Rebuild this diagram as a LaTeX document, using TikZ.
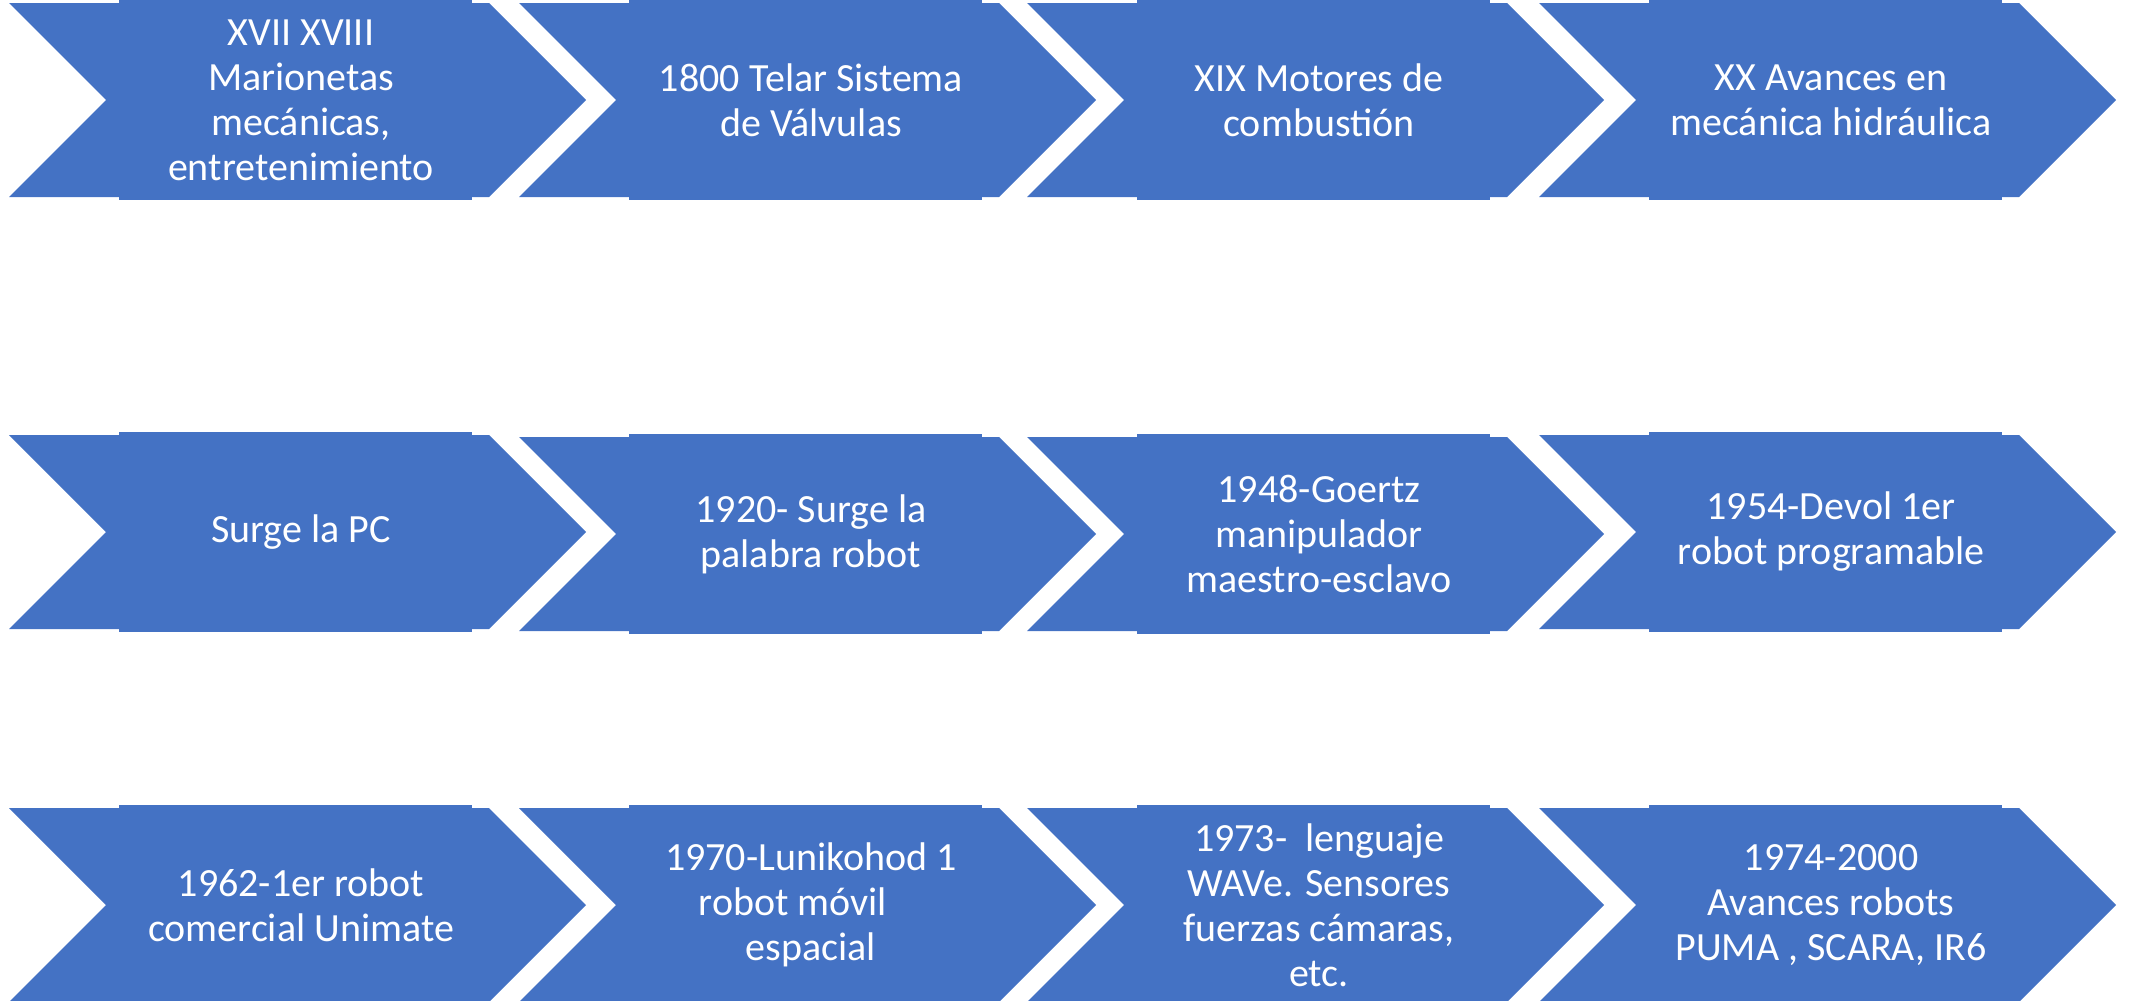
\documentclass[tikz,border=0pt]{standalone}
\usepackage{fontspec}
\setmainfont{Carlito}
\definecolor{chevblue}{HTML}{4472C4}
\tikzset{
  chevfill/.style={fill=chevblue},
  chevtext/.style={text=white, align=center, inner sep=0pt,
    font=\fontsize{40}{45}\selectfont},
}
\newcommand\mychevron[4]{%
  \fill[chevfill] (#2,#3) -- ++(480,0) -- ++(97,97) -- ++(-97,97) -- ++(-480,0) -- ++(97,-97) -- cycle;
  \fill[chevfill] (#2+110,#3-3) rectangle (#2+463,#3+197);
  \node[chevtext] (#1) at (#2+292,#3+97) {#4};
}
\begin{document}
\begin{tikzpicture}[x=1pt,y=-1pt]
\useasboundingbox (0,0) rectangle (2131,1001);
% row 1
\mychevron{a1}{9}{3}{XVII XVIII\\Marionetas\\mecánicas,\\entretenimiento}
\mychevron{a2}{519}{3}{1800 Telar Sistema\\de Válvulas}
\mychevron{a3}{1027}{3}{XIX Motores de\\combustión}
\mychevron{a4}{1539}{3}{XX Avances en\\mecánica hidráulica}
% row 2
\mychevron{b1}{9}{435}{Surge la PC}
\mychevron{b2}{519}{437}{1920- Surge la\\palabra robot}
\mychevron{b3}{1027}{437}{1948-Goertz\\manipulador\\maestro-esclavo}
\mychevron{b4}{1539}{435}{1954-Devol 1er\\robot programable}
% row 3
\mychevron{c1}{9}{808}{1962-1er robot\\comercial Unimate}
\mychevron{c2}{519}{808}{1970-Lunikohod 1\\robot móvil\hbox to 36pt{}\\espacial}
\mychevron{c3}{1027}{808}{1973-\ \ lenguaje\\WAVe. Sensores\\fuerzas cámaras,\\etc.}
\mychevron{c4}{1539}{808}{1974-2000\\Avances robots\\PUMA , SCARA, IR6}
\end{tikzpicture}
\end{document}
